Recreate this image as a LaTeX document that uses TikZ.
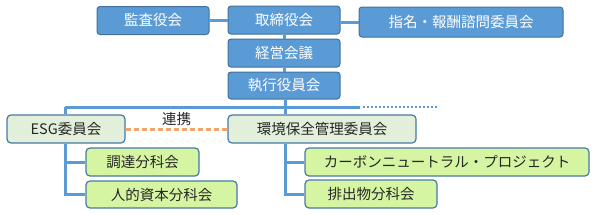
\documentclass[tikz,border=0pt]{standalone}
\usepackage{fontspec}
\setmainfont{Noto Sans CJK JP}
\usepackage{tikz}
\usetikzlibrary{calc}
\definecolor{colBOX}{HTML}{5B9BD5}
\definecolor{colEDGE}{HTML}{41719C}
\definecolor{colCOM}{HTML}{E2EFDA}
\definecolor{colSUB}{HTML}{D6F5A3}
\definecolor{colLINK}{HTML}{F4A46E}
\definecolor{colTXT}{HTML}{262626}

\begin{document}
\begin{tikzpicture}[x=1pt, y=-1pt,
    every node/.style={font=\fontsize{14.5}{16}\selectfont, inner sep=0pt},
    topbox/.style={draw=colEDGE, fill=colBOX, text=white, rounded corners=3pt, line width=1pt, minimum height=28pt},
    combox/.style={draw=colEDGE!80!colBOX, fill=colCOM, text=colTXT, rounded corners=4pt, line width=1.2pt, minimum height=28pt},
    subbox/.style={draw=colEDGE!80!colBOX, fill=colSUB, text=colTXT, rounded corners=4pt, line width=1.2pt, minimum height=28pt},
    wire/.style={colBOX, line width=3pt}]
      \useasboundingbox (0,0) rectangle (596,214);
      % --- Top: board and executive ---
      \node[topbox, minimum width=112pt] (kansa) at (153,20.5) {監査役会};
      \node[topbox, minimum width=112pt] (board) at (284,20) {取締役会};
      \node[topbox, minimum width=204pt, minimum height=30pt] (shimei) at (461,22) {指名・報酬諮問委員会};
      \node[topbox, minimum width=112pt] (keiei) at (284,53) {経営会議};
      \node[topbox, minimum width=112pt, minimum height=27pt] (shikko) at (284,85.5) {執行役員会};
      \draw[wire] (kansa.east) -- (kansa.east -| board.west);
      \draw[wire] (board.east |- shimei.west) -- (shimei.west);
      \draw[wire] (board.south) -- (keiei.north);
      \draw[wire] (keiei.south) -- (shikko.north);
      % --- Bus ---
      \coordinate (busL) at (65,107);
      \coordinate (busM) at (285,107);
      \coordinate (busR) at (360,107);
      \coordinate (busEnd) at (437,107);
      \draw[wire] (shikko.south -| busM) -- (busM);
      \draw[wire] (busL) -- (busR);
      \draw[colBOX, line width=2.5pt, dash pattern=on 2pt off 2pt] ($(busR)+(3,0)$) -- (busEnd);
      % --- Committees ---
      \node[combox, minimum width=118pt] (esg) at (66,129) {ESG委員会};
      \node[combox, minimum width=188pt] (kankyo) at (322,129) {環境保全管理委員会};
      \draw[wire] (busL) -- (busL |- esg.north);
      \draw[wire] (busM) -- (busM |- kankyo.north);
      \draw[colLINK, line width=3pt, dash pattern=on 5pt off 3pt] (esg.east) -- (kankyo.west)
        node[midway, above=1.5pt, text=colTXT] {連携};
      % --- Subcommittees ---
      \node[subbox, minimum width=113pt] (chotatsu) at (142.5,162) {調達分科会};
      \node[subbox, minimum width=151pt, minimum height=27pt] (jinteki) at (161.5,194.5) {人的資本分科会};
      \node[subbox, minimum width=284pt] (carbon) at (447,162) {カーボンニュートラル・プロジェクト};
      \node[subbox, minimum width=132pt] (haishutsu) at (371,194) {排出物分科会};
      \draw[wire] (busL |- esg.south) |- (jinteki.west);
      \draw[wire] (busL |- chotatsu.west) -- (chotatsu.west);
      \draw[wire] (busM |- kankyo.south) |- (haishutsu.west);
      \draw[wire] (busM |- carbon.west) -- (carbon.west);
    \end{tikzpicture}
\end{document}
